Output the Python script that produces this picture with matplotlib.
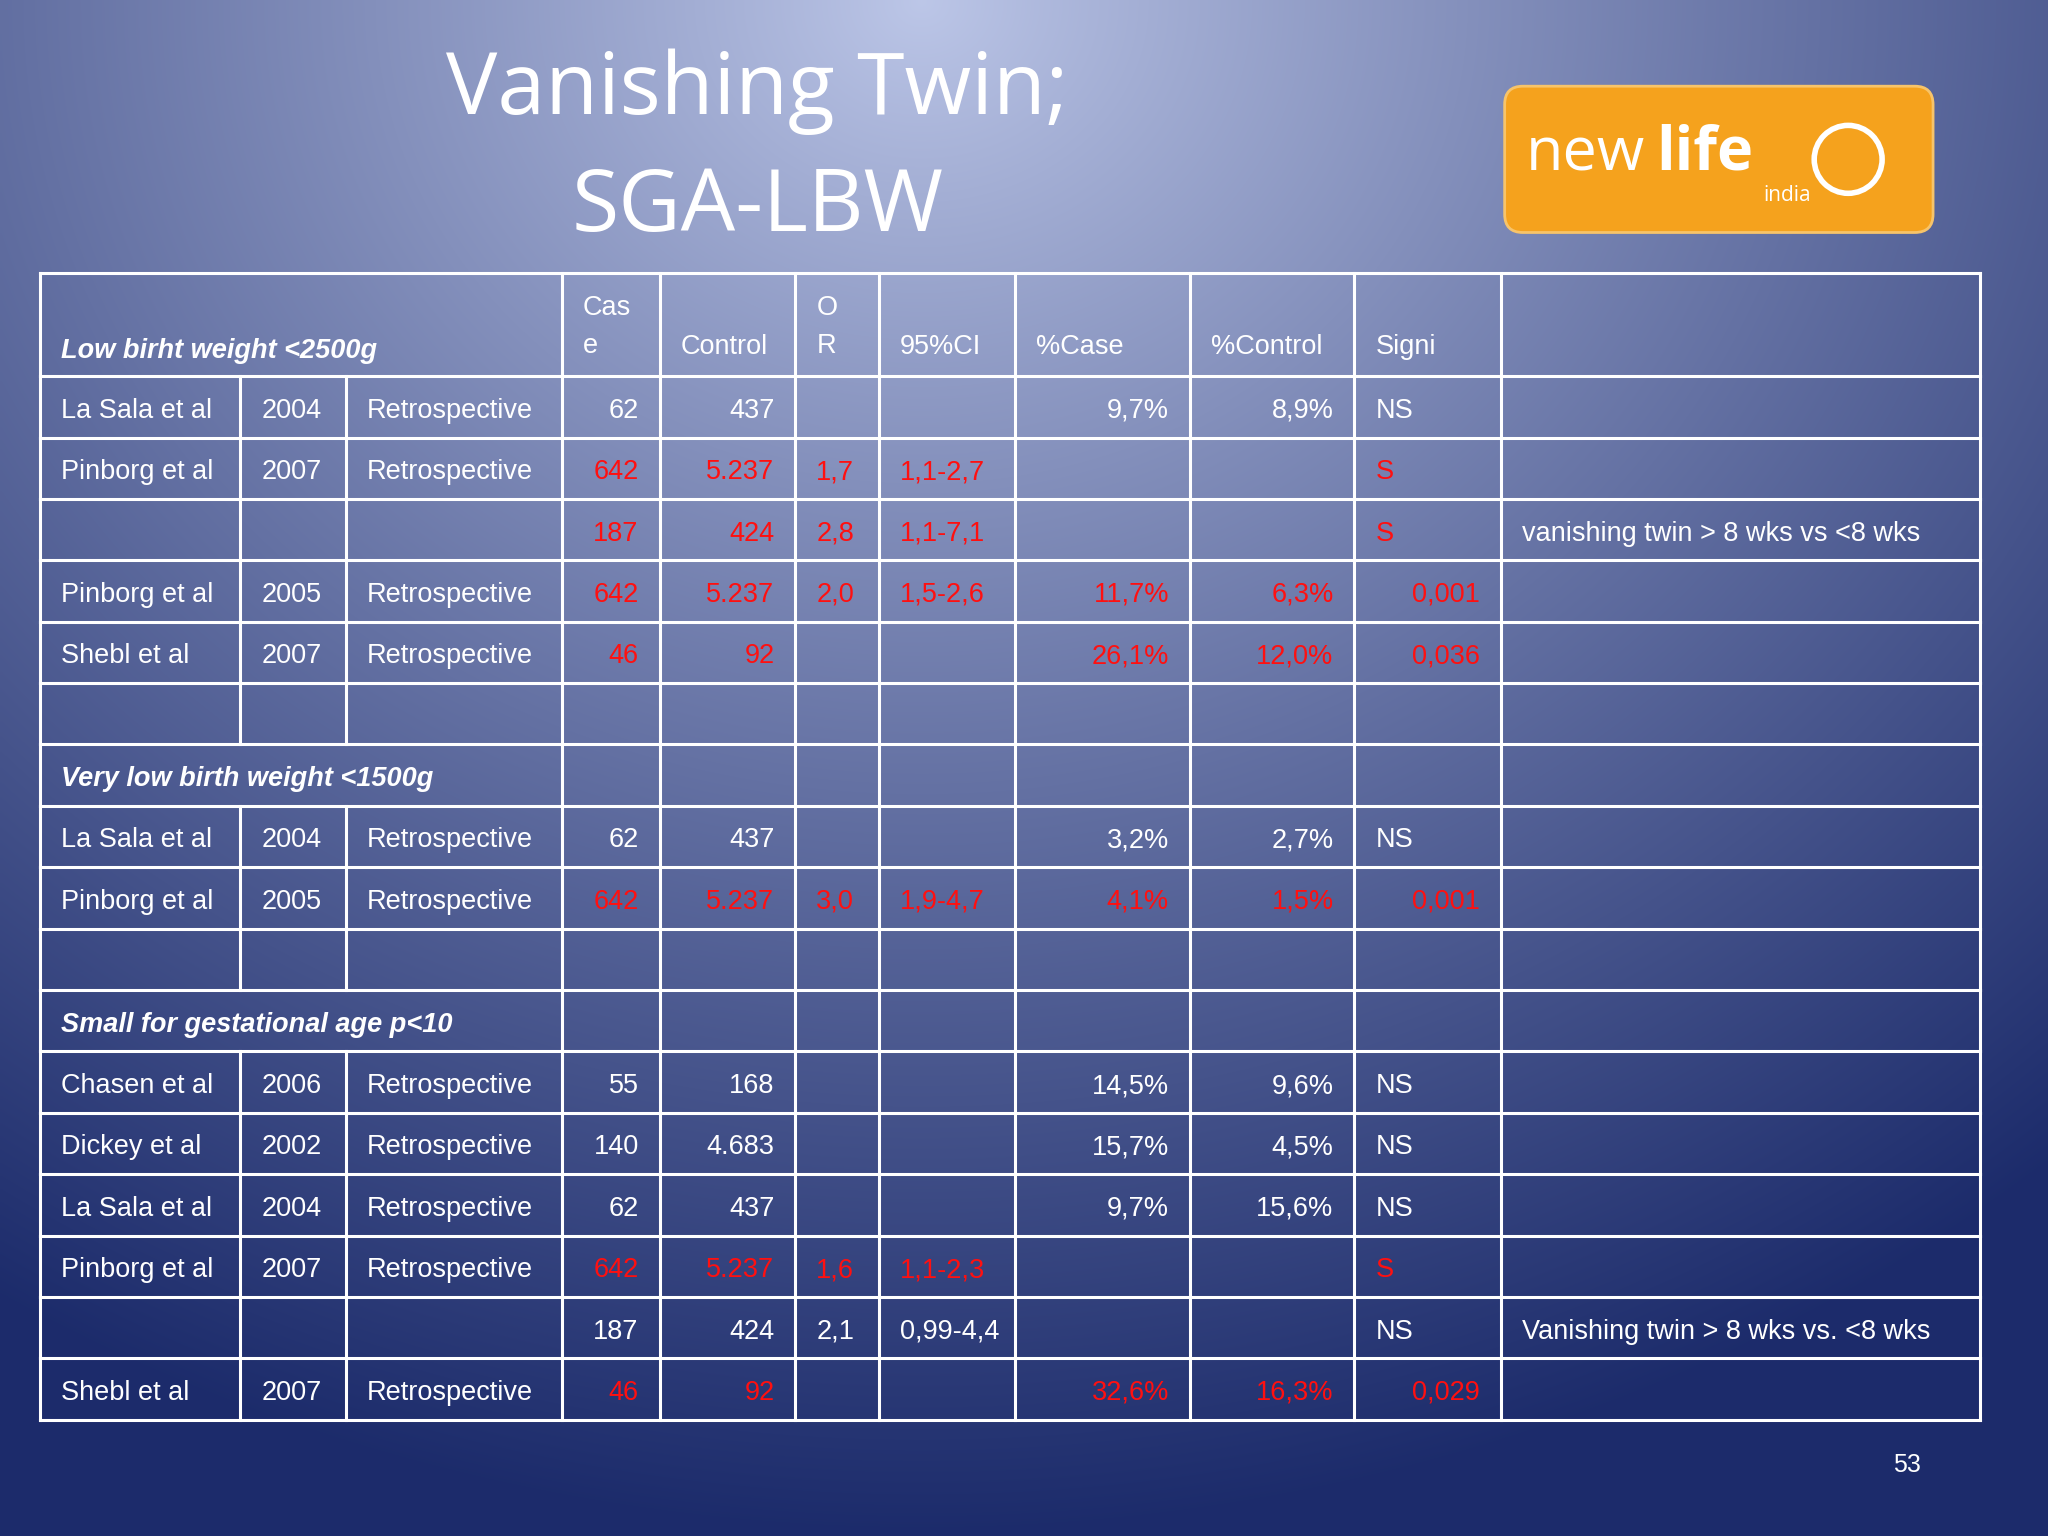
import matplotlib
matplotlib.use("Agg")
import matplotlib.pyplot as plt
import numpy as np
from matplotlib.patches import FancyBboxPatch

title_lines = ["Vanishing Twin;", "SGA-LBW"]
headers = ["Cas\ne", "Control", "O\nR", "95%CI", "%Case", "%Control", "Signi", ""]
rows = [
    ("head", "Low birht weight <2500g"),
    ("data", ["La Sala et al", "2004", "Retrospective", "62", "437", "", "", "9,7%", "8,9%", "NS", ""], []),
    ("data", ["Pinborg et al", "2007", "Retrospective", "642", "5.237", "1,7", "1,1-2,7", "", "", "S", ""], [3, 4, 5, 6, 9]),
    ("data", ["", "", "", "187", "424", "2,8", "1,1-7,1", "", "", "S", "vanishing twin > 8 wks vs <8 wks"], [3, 4, 5, 6, 9]),
    ("data", ["Pinborg et al", "2005", "Retrospective", "642", "5.237", "2,0", "1,5-2,6", "11,7%", "6,3%", "0,001", ""], [3, 4, 5, 6, 7, 8, 9]),
    ("data", ["Shebl et al", "2007", "Retrospective", "46", "92", "", "", "26,1%", "12,0%", "0,036", ""], [3, 4, 7, 8, 9]),
    ("data", [""] * 11, []),
    ("sec", "Very low birth weight <1500g"),
    ("data", ["La Sala et al", "2004", "Retrospective", "62", "437", "", "", "3,2%", "2,7%", "NS", ""], []),
    ("data", ["Pinborg et al", "2005", "Retrospective", "642", "5.237", "3,0", "1,9-4,7", "4,1%", "1,5%", "0,001", ""], [3, 4, 5, 6, 7, 8, 9]),
    ("data", [""] * 11, []),
    ("sec", "Small for gestational age p<10"),
    ("data", ["Chasen et al", "2006", "Retrospective", "55", "168", "", "", "14,5%", "9,6%", "NS", ""], []),
    ("data", ["Dickey et al", "2002", "Retrospective", "140", "4.683", "", "", "15,7%", "4,5%", "NS", ""], []),
    ("data", ["La Sala et al", "2004", "Retrospective", "62", "437", "", "", "9,7%", "15,6%", "NS", ""], []),
    ("data", ["Pinborg et al", "2007", "Retrospective", "642", "5.237", "1,6", "1,1-2,3", "", "", "S", ""], [3, 4, 5, 6, 9]),
    ("data", ["", "", "", "187", "424", "2,1", "0,99-4,4", "", "", "NS", "Vanishing twin > 8 wks vs. <8 wks"], []),
    ("data", ["Shebl et al", "2007", "Retrospective", "46", "92", "", "", "32,6%", "16,3%", "0,029", ""], [3, 4, 7, 8, 9]),
]

W, H = 1568, 1176
fig = plt.figure(figsize=(20.48, 15.36), dpi=100)
bg = fig.add_axes([0, 0, 1, 1])
yy, xx = np.mgrid[0:1:400j, 0:1:530j]
d = np.sqrt(((xx - 0.45) / 0.85) ** 2 + ((yy - 0.0) / 1.0) ** 2)
d = np.clip(d, 0, 1) ** 0.9
c0 = np.array([0.74, 0.78, 0.91]); c1 = np.array([0.11, 0.17, 0.42])
img = c0[None, None, :] * (1 - d[..., None]) + c1[None, None, :] * d[..., None]
bg.imshow(img, extent=[0, W, H, 0], aspect="auto", interpolation="bilinear")
bg.set_xlim(0, W); bg.set_ylim(H, 0); bg.axis("off")
ax = bg

F = "Liberation Sans"
fs = 19.5
ax.text(580, 70, title_lines[0], fontsize=62, color="white", family="Open Sans", ha="center", va="center")
ax.text(580, 160, title_lines[1], fontsize=62, color="white", family="Open Sans", ha="center", va="center")

ax.add_patch(FancyBboxPatch((1158, 72), 316, 100, boxstyle="round,pad=6,rounding_size=14",
                            fc="#f5a21d", ec="#f7c46a", lw=2))
ax.text(1168, 118, "new", fontsize=44, color="white", family="Open Sans", va="center", ha="left")
ax.text(1268, 118, "life", fontsize=44, color="white", family="Open Sans", weight="bold", va="center", ha="left")
ax.text(1350, 150, "india", fontsize=15, color="white", family="Open Sans", va="center", ha="left")
ax.add_patch(plt.Circle((1415, 122), 26, fc="none", ec="white", lw=4))

xs = [31, 184, 265, 430, 505, 609, 673, 777, 911, 1037, 1149, 1516]
ys = [209, 288] + [288 + 47 * (i + 1) for i in range(len(rows) - 1)]
lc = "white"; lw = 2.2
ax.plot([xs[0], xs[-1]], [ys[0], ys[0]], color=lc, lw=lw)
for y in ys[1:]:
    ax.plot([xs[0], xs[-1]], [y, y], color=lc, lw=lw)
for i, (r, y0, y1) in enumerate(zip(rows, ys[:-1], ys[1:])):
    for j, x in enumerate(xs):
        if r[0] in ("head", "sec") and j in (1, 2):
            continue
        ax.plot([x, x], [y0, y1], color=lc, lw=lw)

ax.text(47, 269, rows[0][1], fontsize=fs, color="white", family=F, weight="bold", style="italic", va="center")
hx = [446, 521, 625, 689, 793, 927, 1053, 1165]
for h, x in zip(headers, hx):
    ax.text(x, 250 if "\n" in h else 266, h, fontsize=fs, color="white", family=F, va="center", ha="left", linespacing=1.6)

align = ["l", "l", "l", "r", "r", "l", "l", "r", "r", "s", "l"]
red = "#ff1010"
for r, y0, y1 in zip(rows[1:], ys[1:-1], ys[2:]):
    yc = (y0 + y1) / 2 + 3
    if r[0] == "sec":
        ax.text(47, yc, r[1], fontsize=fs, color="white", family=F, weight="bold", style="italic", va="center")
        continue
    vals, reds = r[1], r[2]
    for j, v in enumerate(vals):
        if not v:
            continue
        col = red if j in reds else "white"
        a = align[j]
        if a == "s":
            a = "l" if v in ("S", "NS") else "r"
        if a == "l":
            ax.text(xs[j] + 16, yc, v, fontsize=fs, color=col, family=F, va="center", ha="left")
        else:
            ax.text(xs[j + 1] - 16, yc, v, fontsize=fs, color=col, family=F, va="center", ha="right")

ax.text(1460, 1122, "53", fontsize=18, color="white", family=F, ha="center", va="center")
fig.savefig("out.png", dpi=100)
